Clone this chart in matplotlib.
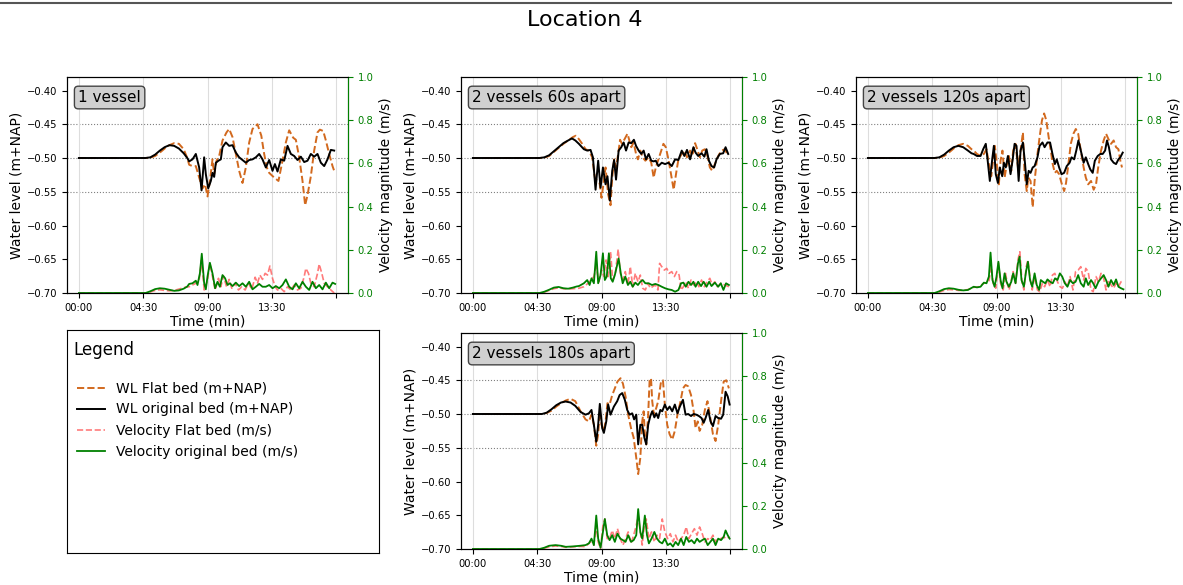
import numpy as np
import matplotlib.pyplot as plt
from matplotlib.lines import Line2D

# time axis (seconds since start) and its labels
xticks = [0, 270, 540, 810, 1080]
xtick_labels = ['00:00', '04:30', '09:00', '13:30', '']
wl_ticks = [-0.70, -0.65, -0.60, -0.55, -0.50, -0.45, -0.40]
wl_ref_levels = [-0.45, -0.50, -0.55]

panel_names = ['1 vessel', '2 vessels 60s apart', '2 vessels 120s apart', '2 vessels 180s apart']

# ---- 1 vessel ----
t1_wl_flat = [0, 280, 300, 320, 340, 360, 380, 400, 420, 440, 455,
              463, 477, 491, 505, 519, 530, 540, 550, 561, 568,
              578, 589, 603, 620, 631, 645, 659, 673, 687, 701,
              715, 729, 750, 766, 778, 789, 799, 820, 838, 855,
              869, 883, 900, 911, 925, 939, 950, 960, 974, 988,
              1002, 1012, 1026, 1037, 1051, 1065, 1075]
wl_flat_1 = [-0.500, -0.500, -0.4995, -0.497, -0.492, -0.486, -0.481, -0.478, -0.479, -0.487, -0.500,
             -0.510, -0.512, -0.512, -0.529, -0.545, -0.539, -0.557, -0.534, -0.502, -0.524,
             -0.504, -0.497, -0.474, -0.462, -0.457, -0.469, -0.494, -0.519, -0.537, -0.514,
             -0.477, -0.457, -0.450, -0.467, -0.494, -0.514, -0.522, -0.529, -0.534, -0.504,
             -0.477, -0.459, -0.470, -0.473, -0.499, -0.534, -0.570, -0.555, -0.527, -0.489,
             -0.462, -0.458, -0.460, -0.474, -0.494, -0.512, -0.522]
t1_wl_orig = [0, 280, 300, 320, 340, 360, 380, 400, 420, 440, 455,
              463, 477, 491, 505, 515, 526, 533, 543, 554, 561,
              568, 575, 586, 596, 603, 617, 631, 645, 659, 673,
              687, 701, 715, 729, 743, 757, 771, 785, 799, 813,
              823, 834, 848, 862, 876, 890, 904, 918, 932, 946,
              960, 974, 988, 1002, 1016, 1030, 1044, 1058, 1072]
wl_orig_1 = [-0.500, -0.500, -0.499, -0.495, -0.489, -0.484, -0.481, -0.482, -0.486, -0.493, -0.500,
             -0.505, -0.502, -0.494, -0.514, -0.548, -0.499, -0.524, -0.545, -0.534, -0.522,
             -0.528, -0.507, -0.504, -0.502, -0.484, -0.477, -0.482, -0.481, -0.492, -0.499,
             -0.503, -0.507, -0.503, -0.502, -0.499, -0.494, -0.502, -0.514, -0.503, -0.519,
             -0.509, -0.520, -0.502, -0.504, -0.482, -0.494, -0.497, -0.503, -0.498, -0.506,
             -0.504, -0.494, -0.498, -0.494, -0.507, -0.512, -0.502, -0.488, -0.489]
t1_vel_flat = [0, 280, 300, 320, 340, 360, 380, 400, 420, 440, 455,
               463, 477, 491, 505, 515, 526, 540, 550, 561, 572,
               586, 596, 607, 620, 631, 642, 656, 670, 684, 698,
               712, 726, 740, 750, 760, 771, 782, 792, 802, 813,
               824, 834, 848, 862, 876, 890, 904, 918, 932, 946,
               953, 964, 974, 988, 1002, 1009, 1020, 1030, 1044, 1058, 1072]
vel_flat_1 = [0, 0, 0.005, 0.012, 0.015, 0.012, 0.010, 0.012, 0.018, 0.025, 0.028,
              0.029, 0.037, 0.045, 0.060, 0.153, 0.014, 0.060, 0.137, 0.076, 0.014,
              0.068, 0.029, 0.079, 0.029, 0.063, 0.022, 0.045, 0.014, 0.029, 0.014,
              0.045, 0.017, 0.073, 0.045, 0.083, 0.063, 0.091, 0.083, 0.125, 0.068,
              0.029, 0.014, 0.022, 0.006, 0.029, 0.014, 0.037, 0.014, 0.022, 0.076,
              0.114, 0.091, 0.045, 0.029, 0.091, 0.134, 0.091, 0.045, 0.029, 0.014, 0.000]
t1_vel_orig = [0, 280, 300, 320, 340, 360, 380, 400, 420, 440, 455,
               463, 477, 491, 498, 508, 516, 526, 533, 540, 550,
               561, 572, 582, 592, 603, 614, 624, 634, 645, 659,
               673, 687, 701, 715, 729, 743, 757, 771, 785, 799,
               813, 827, 841, 855, 869, 883, 897, 911, 925, 939,
               953, 967, 981, 995, 1009, 1023, 1037, 1051, 1065, 1076]
vel_orig_1 = [0, 0, 0.008, 0.018, 0.022, 0.020, 0.015, 0.010, 0.012, 0.020, 0.030,
              0.042, 0.045, 0.057, 0.037, 0.091, 0.182, 0.045, 0.017, 0.076, 0.140,
              0.091, 0.022, 0.052, 0.029, 0.083, 0.068, 0.037, 0.045, 0.032, 0.048,
              0.032, 0.045, 0.029, 0.052, 0.017, 0.029, 0.042, 0.029, 0.029, 0.037,
              0.022, 0.032, 0.022, 0.037, 0.063, 0.029, 0.017, 0.045, 0.022, 0.052,
              0.029, 0.014, 0.052, 0.022, 0.037, 0.017, 0.048, 0.022, 0.048, 0.042]

# ---- 2 vessels 60s apart ----
t2_wl_flat = [0, 280, 300, 320, 340, 360, 380, 400, 420, 432, 445,
              459, 473, 487, 501, 512, 522, 532, 540, 548, 557,
              568, 578, 585, 593, 601, 610, 618, 626, 637, 649,
              657, 665, 675, 685, 693, 703, 713, 724, 738, 749,
              759, 768, 779, 791, 800, 810, 821, 832, 843, 855,
              863, 877, 888, 899, 912, 921, 933, 944, 953, 963,
              974, 985, 995, 1005, 1016, 1030, 1044, 1058, 1072]
wl_flat_2 = [-0.500, -0.500, -0.4995, -0.497, -0.491, -0.485, -0.479, -0.474, -0.469, -0.467, -0.472,
             -0.479, -0.487, -0.489, -0.499, -0.529, -0.534, -0.537, -0.559, -0.539, -0.514,
             -0.554, -0.570, -0.529, -0.502, -0.514, -0.494, -0.473, -0.479, -0.472, -0.464,
             -0.474, -0.484, -0.477, -0.494, -0.502, -0.489, -0.499, -0.504, -0.499, -0.507,
             -0.529, -0.514, -0.502, -0.489, -0.479, -0.484, -0.502, -0.524, -0.547, -0.519,
             -0.502, -0.494, -0.489, -0.499, -0.489, -0.497, -0.478, -0.489, -0.499, -0.489,
             -0.487, -0.497, -0.514, -0.519, -0.509, -0.497, -0.489, -0.487, -0.497]
t2_wl_orig = [0, 280, 300, 320, 340, 360, 380, 400, 416, 430, 445,
              466, 480, 494, 504, 515, 526, 536, 546, 557, 565,
              575, 585, 593, 601, 612, 623, 633, 643, 654, 665,
              676, 685, 696, 707, 717, 727, 738, 749, 759, 768,
              779, 793, 807, 821, 835, 849, 863, 877, 888, 899,
              912, 926, 935, 946, 960, 972, 981, 991, 1002, 1013,
              1023, 1037, 1051, 1061, 1072]
wl_orig_2 = [-0.500, -0.500, -0.499, -0.496, -0.490, -0.484, -0.478, -0.474, -0.471, -0.474, -0.479,
             -0.487, -0.489, -0.488, -0.499, -0.547, -0.504, -0.544, -0.514, -0.539, -0.527,
             -0.563, -0.519, -0.503, -0.532, -0.489, -0.484, -0.477, -0.489, -0.477, -0.478,
             -0.473, -0.482, -0.489, -0.494, -0.489, -0.502, -0.494, -0.504, -0.505, -0.504,
             -0.512, -0.507, -0.509, -0.507, -0.512, -0.502, -0.503, -0.489, -0.497, -0.488,
             -0.502, -0.484, -0.492, -0.497, -0.493, -0.498, -0.487, -0.504, -0.512, -0.514,
             -0.502, -0.494, -0.493, -0.484, -0.494]
t2_vel_flat = [0, 280, 300, 320, 340, 360, 380, 400, 420, 445,
               466, 487, 508, 518, 529, 540, 550, 559, 568, 578,
               587, 598, 610, 619, 629, 640, 651, 661, 671, 682,
               693, 703, 713, 724, 735, 745, 754, 766, 777, 784,
               793, 804, 814, 824, 835, 846, 856, 866, 874, 884,
               894, 905, 916, 927, 940, 949, 960, 972, 983, 995,
               1005, 1016, 1027, 1041, 1058, 1075]
vel_flat_2 = [0, 0, 0.004, 0.012, 0.020, 0.024, 0.020, 0.018, 0.020, 0.022,
              0.029, 0.048, 0.076, 0.122, 0.052, 0.106, 0.076, 0.153, 0.076, 0.191,
              0.060, 0.091, 0.202, 0.091, 0.060, 0.099, 0.037, 0.122, 0.029, 0.091,
              0.052, 0.083, 0.022, 0.014, 0.045, 0.022, 0.029, 0.037, 0.014, 0.137,
              0.122, 0.106, 0.114, 0.091, 0.099, 0.076, 0.099, 0.083, 0.014, 0.029,
              0.052, 0.022, 0.060, 0.037, 0.052, 0.029, 0.060, 0.029, 0.052, 0.068,
              0.037, 0.052, 0.029, 0.045, 0.037, 0.029]
t2_vel_orig = [0, 280, 300, 320, 340, 360, 380, 400, 420, 435, 445,
               466, 480, 490, 498, 508, 518, 526, 536, 546, 554,
               562, 571, 579, 587, 596, 612, 621, 629, 640, 651,
               661, 671, 682, 693, 703, 713, 724, 738, 752, 766,
               779, 793, 807, 821, 835, 849, 863, 874, 884, 894,
               905, 916, 926, 935, 946, 958, 969, 981, 992, 1002,
               1016, 1030, 1041, 1052, 1063, 1075]
vel_orig_2 = [0, 0, 0.006, 0.015, 0.025, 0.028, 0.022, 0.020, 0.025, 0.030, 0.032,
              0.045, 0.060, 0.037, 0.068, 0.045, 0.191, 0.045, 0.083, 0.184, 0.060,
              0.076, 0.184, 0.068, 0.052, 0.083, 0.160, 0.091, 0.045, 0.076, 0.037,
              0.052, 0.029, 0.048, 0.037, 0.052, 0.060, 0.045, 0.045, 0.037, 0.042,
              0.037, 0.029, 0.022, 0.017, 0.014, 0.006, 0.014, 0.045, 0.048, 0.029,
              0.052, 0.037, 0.052, 0.029, 0.052, 0.032, 0.052, 0.029, 0.052, 0.032,
              0.048, 0.029, 0.045, 0.014, 0.045, 0.037]

# ---- 2 vessels 120s apart ----
t3_wl_flat = [0, 280, 300, 320, 340, 360, 380, 400, 420, 435, 444,
              458, 473, 487, 498, 508, 518, 526, 533, 543, 550,
              557, 565, 574, 582, 592, 602, 610, 620, 630, 641,
              651, 658, 667, 674, 683, 692, 700, 712, 721, 731,
              740, 749, 759, 768, 776, 785, 793, 803, 813, 824,
              832, 842, 852, 863, 873, 883, 894, 906, 915, 925,
              937, 948, 958, 967, 979, 990, 1000, 1010, 1021, 1032,
              1042, 1052, 1060, 1067]
wl_flat_3 = [-0.500, -0.500, -0.4995, -0.497, -0.492, -0.486, -0.481, -0.479, -0.482, -0.487, -0.489,
             -0.494, -0.497, -0.494, -0.487, -0.509, -0.527, -0.502, -0.482, -0.514, -0.539,
             -0.504, -0.489, -0.529, -0.512, -0.497, -0.519, -0.489, -0.479, -0.514, -0.489,
             -0.462, -0.524, -0.549, -0.529, -0.534, -0.573, -0.534, -0.494, -0.469, -0.444,
             -0.434, -0.444, -0.469, -0.489, -0.509, -0.522, -0.519, -0.524, -0.537, -0.549,
             -0.537, -0.509, -0.479, -0.464, -0.457, -0.464, -0.489, -0.514, -0.529, -0.539,
             -0.534, -0.547, -0.539, -0.514, -0.489, -0.474, -0.464, -0.472, -0.479, -0.474,
             -0.484, -0.487, -0.504, -0.514]
t3_wl_orig = [0, 280, 300, 320, 340, 360, 380, 400, 420, 435, 444,
              458, 473, 484, 495, 503, 512, 522, 529, 537, 546,
              554, 564, 571, 579, 588, 599, 608, 616, 624, 633,
              641, 651, 660, 667, 675, 683, 692, 700, 712, 721,
              733, 742, 754, 765, 775, 785, 793, 803, 813, 824,
              835, 847, 855, 866, 875, 884, 894, 906, 915, 925,
              934, 944, 953, 965, 976, 986, 996, 1004, 1012, 1021,
              1032, 1042, 1052, 1060, 1070]
wl_orig_3 = [-0.500, -0.500, -0.499, -0.495, -0.489, -0.484, -0.482, -0.484, -0.489, -0.493, -0.494,
             -0.497, -0.497, -0.487, -0.479, -0.504, -0.534, -0.502, -0.482, -0.524, -0.537,
             -0.514, -0.527, -0.507, -0.514, -0.497, -0.524, -0.502, -0.479, -0.482, -0.534,
             -0.489, -0.477, -0.509, -0.539, -0.519, -0.522, -0.514, -0.512, -0.499, -0.482,
             -0.477, -0.484, -0.477, -0.477, -0.494, -0.509, -0.502, -0.514, -0.524, -0.522,
             -0.512, -0.507, -0.499, -0.502, -0.489, -0.474, -0.489, -0.507, -0.499, -0.509,
             -0.517, -0.522, -0.504, -0.497, -0.494, -0.494, -0.489, -0.474, -0.484, -0.502,
             -0.507, -0.509, -0.502, -0.499, -0.492]
t3_vel_flat = [0, 280, 300, 320, 340, 360, 380, 400, 420, 444,
               465, 487, 508, 518, 526, 537, 548, 557, 568, 578,
               585, 593, 602, 610, 620, 630, 638, 647, 655, 665,
               672, 681, 690, 700, 712, 721, 733, 742, 754, 765,
               775, 785, 796, 807, 817, 827, 838, 849, 861, 872,
               883, 894, 906, 915, 925, 937, 946, 958, 968, 979,
               990, 1000, 1010, 1021, 1032, 1042, 1052, 1063, 1071]
vel_flat_3 = [0, 0, 0.004, 0.012, 0.016, 0.015, 0.012, 0.012, 0.016, 0.026,
              0.029, 0.045, 0.052, 0.122, 0.045, 0.022, 0.137, 0.045, 0.014, 0.091,
              0.045, 0.014, 0.060, 0.099, 0.045, 0.153, 0.191, 0.052, 0.014, 0.122,
              0.153, 0.068, 0.014, 0.076, 0.014, 0.006, 0.045, 0.029, 0.060, 0.029,
              0.083, 0.091, 0.052, 0.029, 0.022, 0.052, 0.029, 0.076, 0.014, 0.099,
              0.106, 0.122, 0.060, 0.114, 0.099, 0.014, 0.006, 0.076, 0.052, 0.091,
              0.068, 0.014, 0.060, 0.037, 0.022, 0.045, 0.029, 0.052, 0.057]
t3_vel_orig = [0, 280, 300, 320, 340, 360, 380, 400, 420, 444,
               458, 473, 487, 498, 508, 515, 523, 532, 540, 548,
               557, 565, 574, 582, 592, 602, 610, 620, 630, 637,
               645, 655, 664, 672, 681, 690, 700, 709, 719, 726,
               735, 745, 754, 765, 776, 786, 796, 806, 816, 827,
               838, 849, 861, 872, 883, 894, 906, 915, 925, 937,
               946, 956, 968, 979, 990, 1000, 1010, 1021, 1032, 1042,
               1052, 1063, 1073]
vel_orig_3 = [0, 0, 0.008, 0.018, 0.022, 0.020, 0.015, 0.012, 0.014, 0.029,
              0.026, 0.029, 0.048, 0.045, 0.076, 0.187, 0.060, 0.029, 0.076, 0.145,
              0.060, 0.022, 0.091, 0.052, 0.029, 0.052, 0.091, 0.045, 0.137, 0.168,
              0.060, 0.029, 0.099, 0.145, 0.060, 0.029, 0.091, 0.037, 0.014, 0.060,
              0.052, 0.045, 0.063, 0.052, 0.045, 0.068, 0.060, 0.091, 0.076, 0.045,
              0.029, 0.060, 0.045, 0.052, 0.083, 0.045, 0.029, 0.068, 0.037, 0.060,
              0.045, 0.022, 0.052, 0.068, 0.083, 0.060, 0.029, 0.060, 0.037, 0.063,
              0.029, 0.022, 0.017]

# ---- 2 vessels 180s apart ----
t4_wl_flat = [0, 290, 310, 330, 350, 370, 390, 410, 430, 452,
              473, 487, 498, 508, 518, 526, 533, 540, 550, 557,
              565, 574, 585, 596, 607, 620, 630, 641, 652, 664,
              675, 686, 694, 703, 711, 717, 722, 728, 736, 742,
              748, 753, 760, 770, 778, 790, 798, 806, 816, 826,
              837, 848, 859, 872, 882, 893, 904, 916, 927, 935,
              944, 952, 963, 974, 985, 997, 1008, 1019, 1030, 1042,
              1053, 1064, 1075]
wl_flat_4 = [-0.500, -0.500, -0.4985, -0.495, -0.489, -0.484, -0.480, -0.4775, -0.481, -0.496,
             -0.508, -0.511, -0.501, -0.516, -0.547, -0.530, -0.496, -0.516, -0.525, -0.511,
             -0.484, -0.486, -0.472, -0.462, -0.452, -0.447, -0.455, -0.474, -0.501, -0.521,
             -0.535, -0.565, -0.589, -0.565, -0.511, -0.496, -0.530, -0.545, -0.501, -0.450,
             -0.447, -0.481, -0.501, -0.491, -0.481, -0.452, -0.450, -0.486, -0.516, -0.530,
             -0.538, -0.525, -0.501, -0.481, -0.462, -0.457, -0.459, -0.472, -0.496, -0.521,
             -0.511, -0.525, -0.516, -0.494, -0.481, -0.506, -0.530, -0.540, -0.516, -0.481,
             -0.452, -0.450, -0.462]
t4_wl_orig = [0, 290, 310, 330, 350, 370, 389, 410, 430, 452,
              473, 487, 498, 508, 518, 526, 533, 543, 550, 560,
              568, 578, 592, 606, 616, 627, 638, 648, 658, 669,
              677, 686, 694, 703, 711, 720, 728, 736, 745, 753,
              762, 770, 778, 787, 795, 806, 816, 826, 837, 848,
              859, 869, 882, 893, 904, 916, 927, 938, 949, 960,
              969, 977, 988, 998, 1008, 1019, 1030, 1042, 1051, 1061,
              1070, 1078]
wl_orig_4 = [-0.500, -0.500, -0.498, -0.493, -0.487, -0.483, -0.4815, -0.483, -0.488, -0.497,
             -0.501, -0.499, -0.494, -0.516, -0.541, -0.516, -0.485, -0.521, -0.528, -0.511,
             -0.486, -0.501, -0.489, -0.481, -0.472, -0.469, -0.479, -0.494, -0.501, -0.499,
             -0.508, -0.501, -0.545, -0.516, -0.516, -0.535, -0.545, -0.516, -0.503, -0.496,
             -0.505, -0.499, -0.506, -0.494, -0.496, -0.486, -0.494, -0.489, -0.496, -0.486,
             -0.499, -0.489, -0.479, -0.501, -0.500, -0.503, -0.500, -0.501, -0.503, -0.506,
             -0.513, -0.506, -0.494, -0.511, -0.518, -0.503, -0.506, -0.507, -0.501, -0.467,
             -0.474, -0.486]
t4_vel_flat = [0, 280, 300, 320, 347, 370, 390, 420, 450,
               473, 494, 508, 518, 526, 536, 546, 554, 564, 574,
               585, 596, 607, 619, 630, 641, 652, 664, 675, 686,
               694, 703, 711, 720, 728, 739, 750, 762, 773, 784,
               795, 806, 818, 829, 840, 851, 862, 874, 885, 896,
               907, 918, 930, 941, 952, 963, 974, 986, 997, 1008,
               1019, 1030, 1042, 1053, 1064, 1078]
vel_flat_4 = [0, 0, 0.004, 0.010, 0.014, 0.012, 0.008, 0.010, 0.012,
              0.011, 0.033, 0.018, 0.109, 0.033, 0.003, 0.109, 0.139, 0.048, 0.048,
              0.086, 0.048, 0.094, 0.048, 0.018, 0.048, 0.079, 0.026, 0.064, 0.109,
              0.155, 0.079, 0.018, 0.109, 0.139, 0.048, 0.079, 0.033, 0.064, 0.048,
              0.139, 0.079, 0.048, 0.071, 0.033, 0.064, 0.033, 0.048, 0.064, 0.102,
              0.048, 0.071, 0.094, 0.064, 0.102, 0.071, 0.033, 0.048, 0.041, 0.064,
              0.033, 0.048, 0.048, 0.056, 0.048, 0.056]
t4_vel_orig = [0, 280, 300, 320, 347, 370, 390, 420, 450,
               473, 487, 498, 508, 518, 526, 536, 546, 554, 564,
               574, 585, 596, 607, 619, 630, 641, 652, 664, 675,
               686, 694, 703, 711, 722, 731, 739, 750, 762, 773,
               784, 795, 806, 818, 829, 840, 851, 862, 874, 885,
               896, 907, 918, 930, 941, 952, 963, 974, 986, 997,
               1008, 1019, 1030, 1042, 1053, 1061, 1070, 1078]
vel_orig_4 = [0, 0, 0.006, 0.015, 0.018, 0.015, 0.010, 0.012, 0.015,
              0.018, 0.026, 0.048, 0.018, 0.155, 0.048, 0.006, 0.079, 0.139, 0.064,
              0.041, 0.064, 0.033, 0.071, 0.048, 0.041, 0.033, 0.064, 0.033, 0.041,
              0.064, 0.185, 0.079, 0.048, 0.155, 0.064, 0.026, 0.048, 0.079, 0.048,
              0.033, 0.026, 0.048, 0.018, 0.026, 0.011, 0.033, 0.018, 0.048, 0.018,
              0.056, 0.033, 0.041, 0.026, 0.048, 0.033, 0.041, 0.048, 0.018, 0.033,
              0.048, 0.018, 0.048, 0.041, 0.056, 0.086, 0.064, 0.048]

col_wl_flat = 'chocolate'
col_wl_orig = 'black'
col_vel_flat = '#ff5a5a'
col_vel_orig = 'green'

W, H = 1183, 585
fig = plt.figure(figsize=(W / 100, H / 100), dpi=100)


def px_rect(left, top, right, bottom):
    return [left / W, 1 - bottom / H, (right - left) / W, (bottom - top) / H]


def draw_panel(rect, name, t_wf, wf, t_wo, wo, t_vf, vf, t_vo, vo):
    ax = fig.add_axes(rect)
    for lvl in wl_ref_levels:
        ax.axhline(lvl, color='gray', ls=':', lw=0.8, zorder=1)
    ax.grid(axis='x', color='#dddddd', lw=0.8)
    ax.plot(t_wf, wf, '--', color=col_wl_flat, lw=1.4, label='WL Flat bed (m+NAP)')
    ax.plot(t_wo, wo, '-', color=col_wl_orig, lw=1.4, label='WL original bed (m+NAP)')
    ax.set_xlim(-50, 1130)
    ax.set_ylim(-0.70, -0.38)
    ax.set_yticks(wl_ticks)
    ax.set_xticks(xticks, xtick_labels)
    ax.tick_params(labelsize=7.2)
    ax.set_xlabel('Time (min)', fontsize=10, labelpad=1)
    ax.set_ylabel('Water level (m+NAP)', fontsize=10, labelpad=2)
    ax.text(0.04, 0.905, name, transform=ax.transAxes, fontsize=11, va='center',
            bbox=dict(boxstyle='round,pad=0.25', fc='#d0d0d0', ec='#444444'))

    ax2 = ax.twinx()
    ax2.plot(t_vf, vf, '--', color=col_vel_flat, lw=1.2, alpha=0.8, label='Velocity Flat bed (m/s)')
    ax2.plot(t_vo, vo, '-', color=col_vel_orig, lw=1.3, label='Velocity original bed (m/s)')
    ax2.set_ylim(0, 1)
    ax2.tick_params(axis='y', colors='green', labelsize=7.2)
    ax2.spines['right'].set_color('green')
    ax2.set_ylabel('Velocity magnitude (m/s)', fontsize=10)
    return ax, ax2


ax, ax2 = draw_panel(px_rect(67, 77, 348, 293), panel_names[0],
                     t1_wl_flat, wl_flat_1, t1_wl_orig, wl_orig_1,
                     t1_vel_flat, vel_flat_1, t1_vel_orig, vel_orig_1)
draw_panel(px_rect(461, 77, 742, 293), panel_names[1],
           t2_wl_flat, wl_flat_2, t2_wl_orig, wl_orig_2,
           t2_vel_flat, vel_flat_2, t2_vel_orig, vel_orig_2)
draw_panel(px_rect(856, 77, 1137, 293), panel_names[2],
           t3_wl_flat, wl_flat_3, t3_wl_orig, wl_orig_3,
           t3_vel_flat, vel_flat_3, t3_vel_orig, vel_orig_3)
draw_panel(px_rect(461, 333, 742, 549), panel_names[3],
           t4_wl_flat, wl_flat_4, t4_wl_orig, wl_orig_4,
           t4_vel_flat, vel_flat_4, t4_vel_orig, vel_orig_4)

# legend box
axl = fig.add_axes(px_rect(67, 330, 379, 553))
axl.set_xticks([])
axl.set_yticks([])
axl.text(0.022, 0.91, 'Legend', fontsize=12, va='center', transform=axl.transAxes)
h1, l1 = ax.get_legend_handles_labels()
h2, l2 = ax2.get_legend_handles_labels()
leg1 = axl.legend(h1, l1, loc='upper left', bbox_to_anchor=(0.014, 0.794),
                  borderaxespad=0, frameon=False, fontsize=10)
axl.add_artist(leg1)
axl.legend(h2, l2, loc='upper left', bbox_to_anchor=(0.014, 0.605),
           borderaxespad=0, frameon=False, fontsize=10)

fig.text(0.494, 1 - 20 / H, 'Location 4', ha='center', va='center', fontsize=16)
fig.add_artist(Line2D([0, 0.99], [1 - 3 / H, 1 - 3 / H], transform=fig.transFigure,
                      color='#555555', lw=1.5))

fig.savefig('out.png', dpi=100)
